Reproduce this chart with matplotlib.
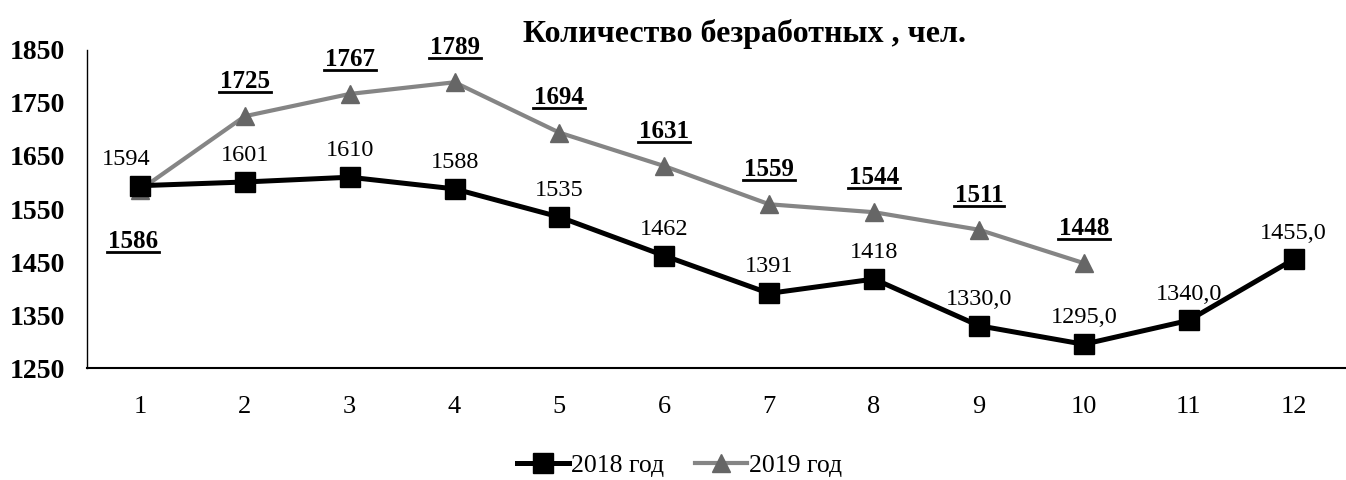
import matplotlib
matplotlib.use("Agg")
import matplotlib.pyplot as plt
from matplotlib.lines import Line2D

plt.rcParams['font.family'] = ['Liberation Serif', 'DejaVu Serif']

months = [1, 2, 3, 4, 5, 6, 7, 8, 9, 10, 11, 12]
y2018 = [1594, 1601, 1610, 1588, 1535, 1462, 1391, 1418, 1330, 1295, 1340, 1455]
lab2018 = ["1594", "1601", "1610", "1588", "1535", "1462", "1391", "1418",
           "1330,0", "1295,0", "1340,0", "1455,0"]
months2019 = [1, 2, 3, 4, 5, 6, 7, 8, 9, 10]
y2019 = [1586, 1725, 1767, 1789, 1694, 1631, 1559, 1544, 1511, 1448]
lab2019 = ["1586", "1725", "1767", "1789", "1694", "1631", "1559", "1544", "1511", "1448"]
yticks = [1250, 1350, 1450, 1550, 1650, 1750, 1850]

fig = plt.figure(figsize=(13.46, 4.8), dpi=100)
ax = fig.add_axes([0.065, 0.233, 0.935, 0.663])

ax.plot(months2019, y2019, color='#858585', lw=3, marker='^', ms=13,
        markerfacecolor='#666666', markeredgecolor='#666666', label='2019 год', zorder=2)
ax.plot(months, y2018, color='black', lw=3.6, marker='s', ms=14,
        label='2018 год', zorder=3)

for i, (x, y, t) in enumerate(zip(months, y2018, lab2018)):
    dx = -10 if i == 0 else 0
    ax.annotate(t, (x, y), xytext=(dx, 19), textcoords='offset points',
                ha='center', va='center', fontsize=17.5)

under = []
for i, (x, y, t) in enumerate(zip(months2019, y2019, lab2019)):
    if i == 0:
        txt = ax.annotate(t, (x, y), xytext=(-5, -37), textcoords='offset points',
                          ha='center', va='center', fontsize=18, fontweight='bold')
    else:
        txt = ax.annotate(t, (x, y), xytext=(0, 25), textcoords='offset points',
                          ha='center', va='center', fontsize=18, fontweight='bold')
    under.append(txt)

ax.set_xlim(0.5, 12.5)
ax.set_ylim(1250, 1850)
ax.set_xticks(months)
ax.set_yticks(yticks)
ax.tick_params(axis='x', length=0, pad=20, labelsize=19)
ax.tick_params(axis='y', length=0, pad=16, labelsize=20)
for lbl in ax.get_yticklabels():
    lbl.set_fontweight('bold')
ax.spines['top'].set_visible(False)
ax.spines['right'].set_visible(False)
ax.spines['left'].set_linewidth(1)
ax.spines['bottom'].set_linewidth(1.5)

fig.text(0.553, 0.93, "Количество безработных , чел.", ha='center', va='center',
         fontsize=23, fontweight='bold')

h, l = ax.get_legend_handles_labels()
fig.legend([h[1], h[0]], [l[1], l[0]], loc='center', bbox_to_anchor=(0.505, 0.03),
           ncol=2, frameon=False, fontsize=18.5, handlelength=2.0, columnspacing=1.2,
           handletextpad=0.1)

# underline bold 2019 labels
fig.canvas.draw()
r = fig.canvas.get_renderer()
W, H = fig.bbox.width, fig.bbox.height
for txt in under:
    bb = txt.get_window_extent(r)
    yline = (bb.y0 + 1) / H
    fig.add_artist(Line2D([(bb.x0 - 1) / W, (bb.x1 + 1) / W], [yline, yline],
                          color='black', lw=2))

fig.savefig("out.png", dpi=100)
